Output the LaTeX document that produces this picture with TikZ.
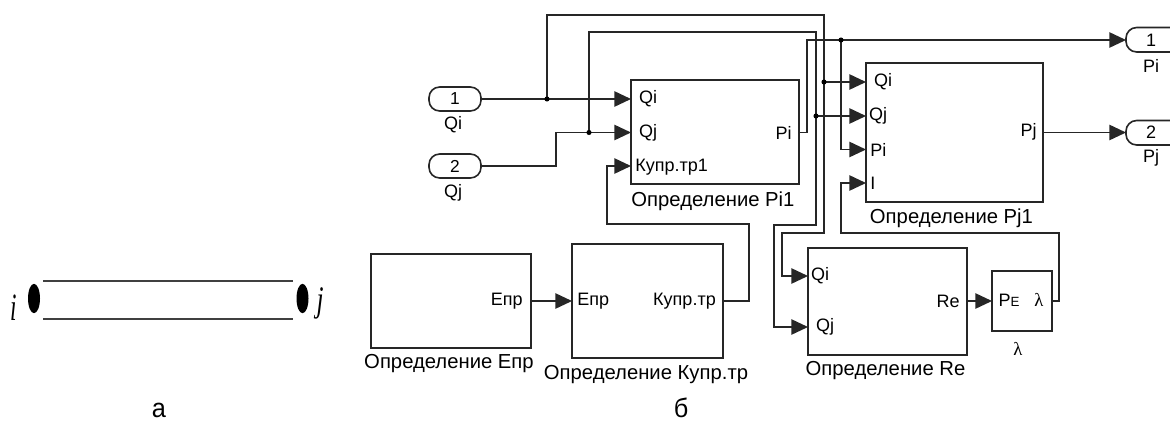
\documentclass[tikz,border=0pt]{standalone}
\usepackage{fontspec}
\setmainfont{Liberation Sans}
\newfontfamily\serifit{Liberation Serif}
\usetikzlibrary{arrows.meta,positioning,shapes.geometric}
\tikzset{
  wire/.style={line width=1.2pt,draw=black!85},
  sig/.style={wire,-{Triangle[length=12.5pt,width=11.5pt]}},
  blk/.style={draw=black!85,line width=1.2pt,fill=white,inner sep=0,outer sep=0},
  port/.style={inner sep=0,font=\fontsize{13.5}{15}\selectfont},
  captxt/.style={inner sep=0,font=\fontsize{15.2}{17}\selectfont,anchor=center},
  dot/.style={circle,fill=black,inner sep=0,minimum size=3.8pt},
  io/.style={draw=black!85,line width=1.2pt,rounded corners=8pt},
  letter/.style={inner sep=0,font=\fontsize{20}{22}\selectfont,xscale=.95},
  lamtxt/.style={inner sep=0,font=\serifit\fontsize{14}{15}\selectfont},
}
\begin{document}
\begin{tikzpicture}[x=.75pt,y=-.75pt]
\useasboundingbox (0,0) rectangle (1170,421);
% part a
\node[ellipse,fill=black,inner sep=0,minimum width=9pt,minimum height=22pt] (ni) at (34,298.5) {};
\node[ellipse,fill=black,inner sep=0,minimum width=9pt,minimum height=22pt] (nj) at (302.5,298.5) {};
\coordinate (t1) at (43,281); \coordinate (t2) at (293,281);
\coordinate (b1) at (43,319); \coordinate (b2) at (293,319);
\draw[line width=1.1pt,draw=black!75] (t1) -- (t2);
\draw[line width=1.1pt,draw=black!75] (b1) -- (b2);
\node[inner sep=0,font=\serifit\itshape\fontsize{29}{30}\selectfont,xscale=.6] (li) at (14,308) {i};
\node[inner sep=0,font=\serifit\itshape\fontsize{27}{28}\selectfont,xscale=.7] (lj) at (320,303) {j};
\node[letter] (capa) at (159,410) {а};
\node[letter] (capb) at (681,408) {б};
% blocks
\node[blk,minimum width=126pt,minimum height=78pt] (pi1) at (715,132) {};
\node[blk,minimum width=132.75pt,minimum height=104.25pt] (pj1) at (954.5,132.5) {};
\node[blk,minimum width=119.25pt,minimum height=80.25pt] (re) at (887.5,301.5) {};
\node[blk,minimum width=45pt,minimum height=45pt] (lam) at (1022,301) {};
\node[blk,minimum width=120pt,minimum height=70.5pt] (epr) at (451,301) {};
\node[blk,minimum width=113.25pt,minimum height=85.5pt] (kup) at (647.5,301) {};
% ports
\coordinate (pi1qi) at (631,99); \coordinate (pi1qj) at (631,132.5); \coordinate (pi1k) at (631,166);
\coordinate (pi1o) at (799,132.5);
\coordinate (pjqi) at (866,82); \coordinate (pjqj) at (866,116); \coordinate (pjpi) at (866,149.5); \coordinate (pjl) at (866,183);
\coordinate (pjo) at (1043,132.5);
\coordinate (reqi) at (808,276); \coordinate (reqj) at (808,327); \coordinate (reo) at (967,301);
\coordinate (lami) at (992,301); \coordinate (lamo) at (1052,301);
\coordinate (epro) at (531,301); \coordinate (kupi) at (572,301); \coordinate (kupo) at (723,301);
% in/out ports
\node[io,minimum width=39pt,minimum height=18pt,inner sep=0,font=\fontsize{13}{14}\selectfont] (in1) at (455,99) {1};
\node[io,minimum width=39pt,minimum height=18pt,inner sep=0,font=\fontsize{13}{14}\selectfont] (in2) at (455,166) {2};
\draw[io] (1174,27.5) -- (1126,27.5) -- (1126,52) -- (1174,52);
\draw[io] (1174,120.5) -- (1126,120.5) -- (1126,145) -- (1174,145);
\node[port] (o1) at (1151,40) {1};
\node[port] (o2) at (1151,132.5) {2};
\coordinate (out1) at (1126,40); \coordinate (out2) at (1126,132.5);
\node[port] (lq1) at (453,125) {Qi};
\node[port] (lq2) at (453,193) {Qj};
\node[port] (lp1) at (1151,66) {Pi};
\node[port] (lp2) at (1151,158) {Pj};
% port labels
\node[port] at (648,99) {Qi};
\node[port] at (648,133) {Qj};
\node[port,anchor=west] at (635,167) {Купр.тр1};
\node[port,anchor=east] at (792,133) {Pi};
\node[port] at (883,82) {Qi};
\node[port] at (878,116) {Qj};
\node[port,anchor=west] at (870,150) {Pi};
\node[port,anchor=west] at (870,183) {I};
\node[port,anchor=east] at (1037,132) {Pj};
\node[port] at (820,276) {Qi};
\node[port] at (825,327) {Qj};
\node[port,anchor=east] at (960,301) {Re};
\node[port] at (1009,300) {P{\fontsize{10}{11}\selectfont E}};
\node[lamtxt] at (1039,300) {λ};
\node[port,anchor=east] at (523,301) {Епр};
\node[port,anchor=west] at (577,301) {Епр};
\node[port,anchor=east] at (716,301) {Купр.тр};
% captions
\node[captxt] (c1) at (713,201) {Определение Pi1};
\node[captxt] (c2) at (951.5,218) {Определение Pj1};
\node[captxt] (c3) at (885.5,371) {Определение Re};
\node[captxt] (c4) at (449,364) {Определение Епр};
\node[captxt] (c5) at (646,375) {Определение Купр.тр};
\node[lamtxt] (c6) at (1018,349) {λ};
% junctions
\coordinate (j1) at (547,99);
\coordinate (j2) at (589,132.5);
\coordinate (j3) at (824,82);
\coordinate (j4) at (816,116);
\coordinate (j5) at (841,40);
% wires
\draw[sig] (in1.east) -- (pi1qi);
\draw[sig] (in2.east) -- (556,166) -- (556,132.5) -- (pi1qj);
\draw[wire] (j1) -- (547,15) -- (824,15) -- (j3);
\draw[sig] (j3) -- (pjqi);
\draw[wire] (j2) -- (589,32) -- (816,32) -- (j4);
\draw[sig] (j4) -- (pjqj);
\draw[sig] (j3) -- (824,233) -- (782,233) -- (782,276) -- (reqi);
\draw[sig] (j4) -- (816,225) -- (774,225) -- (774,327) -- (reqj);
\draw[sig] (pi1o) -- (807,132.5) -- (807,40) -- (out1);
\draw[sig] (j5) -- (841,149.5) -- (pjpi);
\draw[sig] (pjo) -- (out2);
\draw[sig] (lamo) -- (1059,301) -- (1059,233) -- (841,233) -- (841,183) -- (pjl);
\draw[sig] (reo) -- (lami);
\draw[sig] (epro) -- (kupi);
\draw[sig] (kupo) -- (749,301) -- (749,224) -- (607,224) -- (607,166) -- (pi1k);
\foreach \p in {j1,j2,j3,j4,j5} \node[dot] at (\p) {};
\end{tikzpicture}
\end{document}
